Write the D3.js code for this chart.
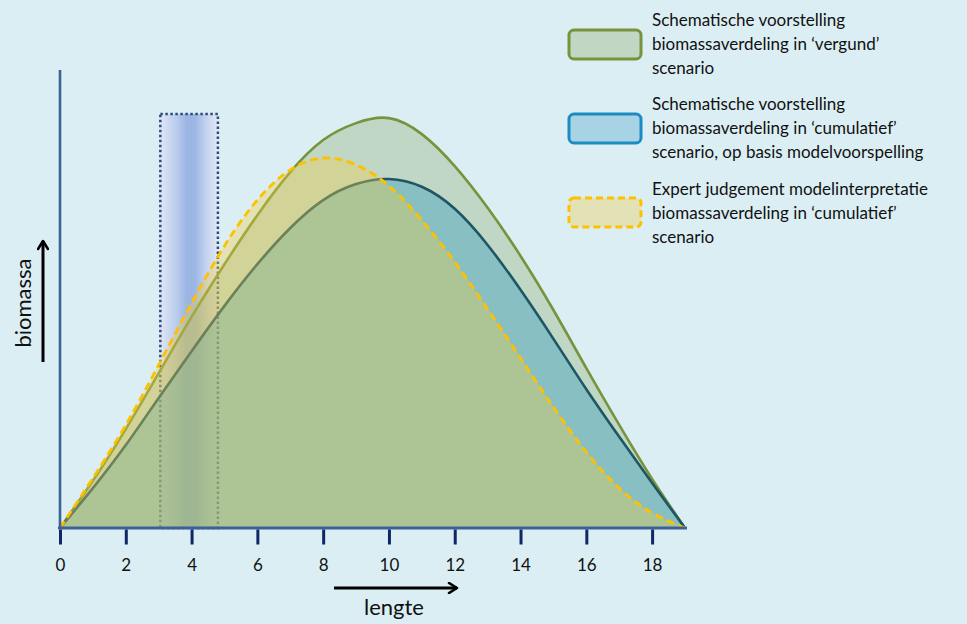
<!DOCTYPE html>
<html>
<head>
<meta charset="utf-8">
<script src="https://cdn.jsdelivr.net/npm/d3@7"></script>
<style>
  html, body { margin: 0; padding: 0; background: #dbeef4; }
  svg { display: block; }
  text { font-family: Lato, "Open Sans", sans-serif; fill: #111; }
</style>
</head>
<body>
<svg id="chart" width="967" height="624"></svg>
<script>
// ---- data ----
const lengte = [0, 1, 2, 3, 4, 5, 6, 7, 8, 9, 10, 11, 12, 13, 14, 15, 16, 17, 18, 19];
const vergund = [0, 10.3, 21.6, 33.8, 46.1, 57.6, 68.3, 77.7, 84.7, 88.4, 89.5, 86.0, 79.0, 69.9, 59.4, 47.6, 34.9, 22.5, 10.7, 0];
const cumulatief = [0, 8.7, 18.1, 28.4, 38.6, 48.5, 57.6, 65.5, 71.6, 75.1, 76.2, 74.5, 69.7, 61.8, 52.0, 41.3, 30.3, 19.9, 9.8, 0];
const expert = [0, 10.9, 22.5, 35.6, 49.1, 61.6, 71.6, 78.2, 80.8, 79.3, 74.7, 67.2, 58.1, 47.8, 37.1, 26.4, 16.6, 8.7, 3.3, 0];
const xTicks = [0, 2, 4, 6, 8, 10, 12, 14, 16, 18];
const kaderX = [3.05, 4.8];
const kaderTop = 90.4;
const legendLabels = [
  ["Schematische voorstelling", "biomassaverdeling in \u2018vergund\u2019", "scenario"],
  ["Schematische voorstelling", "biomassaverdeling in \u2018cumulatief\u2019", "scenario, op basis modelvoorspelling"],
  ["Expert judgement modelinterpretatie", "biomassaverdeling in \u2018cumulatief\u2019", "scenario"]
];
const xLabel = "lengte";
const yLabel = "biomassa";

// ---- drawing ----
const svg = d3.select("#chart");
svg.append("rect").attr("width", 967).attr("height", 624).attr("fill", "#dbeef4");

const x = d3.scaleLinear().domain([0, 19]).range([60, 685]);
const y = d3.scaleLinear().domain([0, 100]).range([528, 70]);

const defs = svg.append("defs");
const grad = defs.append("linearGradient").attr("id", "kaderGrad")
  .attr("x1", "0%").attr("x2", "100%").attr("y1", "0%").attr("y2", "0%");
[[0, "#e0e6f5"], [0.3, "#b8caec"], [0.45, "#9cb6e4"], [0.6, "#9cb6e4"], [0.8, "#c5d3ef"], [1, "#e3e8f6"]]
  .forEach(([o, c]) => grad.append("stop").attr("offset", o).attr("stop-color", c));

defs.append("clipPath").attr("id", "plotClip").append("rect")
  .attr("x", x(0)).attr("y", 0).attr("width", x(19) - x(0)).attr("height", y(0));

// highlighted size class box
svg.append("rect")
  .attr("x", x(kaderX[0])).attr("y", y(kaderTop))
  .attr("width", x(kaderX[1]) - x(kaderX[0]))
  .attr("height", y(0) - y(kaderTop))
  .attr("fill", "url(#kaderGrad)")
  .attr("stroke", "#2c4c7e").attr("stroke-width", 2.5)
  .attr("stroke-dasharray", "2.5,2.5");

const curve = d3.curveNatural;
const plot = svg.append("g").attr("clip-path", "url(#plotClip)");
function drawSeries(vals, fill, fillOp, stroke, dash) {
  const pts = lengte.map((l, i) => [l, vals[i]]);
  const area = d3.area().x(d => x(d[0])).y0(y(0)).y1(d => y(d[1])).curve(curve);
  const line = d3.line().x(d => x(d[0])).y(d => y(d[1])).curve(curve);
  plot.append("path").attr("d", area(pts)).attr("fill", fill).attr("fill-opacity", fillOp);
  const p = plot.append("path").attr("d", line(pts)).attr("fill", "none")
    .attr("stroke", stroke).attr("stroke-width", dash ? 2.8 : 2.6);
  if (dash) p.attr("stroke-dasharray", dash);
}
drawSeries(vergund, "rgb(145,172,110)", 0.35, "#77933c", null);
drawSeries(cumulatief, "rgb(55,158,190)", 0.42, "#1f5666", null);
drawSeries(expert, "rgb(242,204,68)", 0.36, "#ffc000", "8,4.5");

// axes
svg.append("line").attr("x1", x(0)).attr("x2", x(0)).attr("y1", 70).attr("y2", y(0))
  .attr("stroke", "#3c6197").attr("stroke-width", 2.6);
svg.append("line").attr("x1", x(0) - 2).attr("x2", x(19) + 2).attr("y1", y(0)).attr("y2", y(0))
  .attr("stroke", "#3c6197").attr("stroke-width", 3);

const xAxis = d3.axisBottom(x).tickValues(xTicks).tickSize(15).tickPadding(14).tickFormat(d3.format("d"));
const gx = svg.append("g").attr("transform", `translate(0,${y(0) + 1.5})`).call(xAxis);
gx.select(".domain").remove();
gx.selectAll(".tick line").attr("stroke", "#0f2767").attr("stroke-width", 3);
gx.selectAll(".tick text").attr("font-size", 17).attr("fill", "#111")
  .style("font-family", "Lato, sans-serif");

// arrow marker
defs.append("marker").attr("id", "arrow").attr("viewBox", "0 0 12 12")
  .attr("refX", 10).attr("refY", 6).attr("markerWidth", 12).attr("markerHeight", 12)
  .attr("markerUnits", "userSpaceOnUse").attr("orient", "auto")
  .append("path").attr("d", "M2,1 L10,6 L2,11").attr("fill", "none")
  .attr("stroke", "#000").attr("stroke-width", 2.6).attr("stroke-linecap", "round").attr("stroke-linejoin", "round");

svg.append("line").attr("x1", 334).attr("x2", 457).attr("y1", 588).attr("y2", 588)
  .attr("stroke", "#000").attr("stroke-width", 3).attr("marker-end", "url(#arrow)");
svg.append("text").attr("x", 394).attr("y", 615).attr("text-anchor", "middle")
  .attr("font-size", 22).text(xLabel);

svg.append("line").attr("x1", 43).attr("x2", 43).attr("y1", 362).attr("y2", 241)
  .attr("stroke", "#000").attr("stroke-width", 3).attr("marker-end", "url(#arrow)");
svg.append("text").attr("transform", "translate(31,303) rotate(-90)").attr("text-anchor", "middle")
  .attr("font-size", 22).text(yLabel);

// legend
const legendY = [30, 114, 198];
const legendStyle = [
  { fill: "#c1d6c3", stroke: "#77933c", dash: null },
  { fill: "#a8d3e4", stroke: "#1a8cc2", dash: null },
  { fill: "#e3e1b6", stroke: "#ffc000", dash: "7,4" }
];
const baseY = [[26, 50, 74], [110, 134, 158], [195, 219, 243]];
legendLabels.forEach((lines, i) => {
  const st = legendStyle[i];
  const r = svg.append("rect").attr("x", 569).attr("y", legendY[i]).attr("width", 72).attr("height", 29)
    .attr("rx", 5).attr("fill", st.fill).attr("stroke", st.stroke).attr("stroke-width", 3);
  if (st.dash) r.attr("stroke-dasharray", st.dash);
  lines.forEach((t, j) => {
    svg.append("text").attr("x", 652).attr("y", baseY[i][j]).attr("font-size", 17).text(t);
  });
});
</script>
</body>
</html>
